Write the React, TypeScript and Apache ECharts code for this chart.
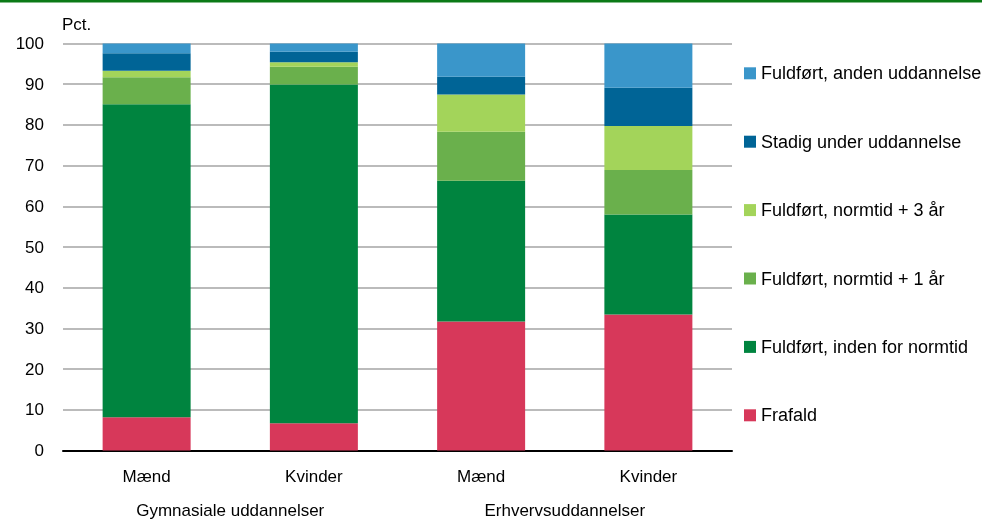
import React, { useEffect, useRef } from "react";
import * as echarts from "echarts";

const categories = ["Mænd", "Kvinder", "Mænd", "Kvinder"];
const groups = ["Gymnasiale uddannelser", "Erhvervsuddannelser"];

const frafald = [8.2, 6.7, 31.7, 33.4];
const indenNormtid = [76.9, 83.2, 34.6, 24.6];
const normtid1 = [6.6, 4.4, 12.0, 10.9];
const normtid3 = [1.6, 1.1, 9.2, 10.8];
const stadig = [4.3, 2.6, 4.3, 9.4];
const anden = [2.4, 2.0, 8.2, 10.9];

const seriesNames = [
  "Frafald",
  "Fuldført, inden for normtid",
  "Fuldført, normtid + 1 år",
  "Fuldført, normtid + 3 år",
  "Stadig under uddannelse",
  "Fuldført, anden uddannelse",
];
const seriesData = [frafald, indenNormtid, normtid1, normtid3, stadig, anden];
const colors = ["#d7385a", "#00843f", "#6ab04c", "#a3d45a", "#006496", "#3a96ca"];

const FONT = "'Liberation Sans', Arial, sans-serif";

export default function App() {
  const ref = useRef<HTMLDivElement>(null);
  useEffect(() => {
    if (!ref.current) return;
    const chart = echarts.init(ref.current, null, { renderer: "svg" });
    chart.setOption({
      animation: false,
      textStyle: { fontFamily: FONT, color: "#000" },
      grid: { left: 63, right: 250, top: 43.5, bottom: 70.5, containLabel: false },
      legend: {
        orient: "vertical",
        left: 744,
        top: 64.3,
        padding: 0,
        itemWidth: 12,
        itemHeight: 12,
        itemGap: 50.4,
        icon: "rect",
        data: seriesNames.slice().reverse(),
        textStyle: { fontFamily: FONT, fontSize: 18, color: "#000", lineHeight: 18 },
        selectedMode: false,
      },
      xAxis: [
        {
          type: "category",
          data: categories,
          axisLine: { lineStyle: { color: "#000", width: 2 } },
          axisTick: { show: false },
          axisLabel: { fontSize: 17, color: "#000", margin: 17, fontFamily: FONT },
        },
        {
          type: "category",
          data: groups,
          position: "bottom",
          offset: 34,
          axisLine: { show: false },
          axisTick: { show: false },
          axisLabel: { fontSize: 17, color: "#000", margin: 17, fontFamily: FONT },
        },
      ],
      yAxis: {
        type: "value",
        min: 0,
        max: 100,
        interval: 10,
        axisLine: { show: false },
        axisTick: { show: false },
        axisLabel: { fontSize: 17, color: "#000", margin: 19, fontFamily: FONT },
        splitLine: { lineStyle: { color: "#a5a5a5", width: 1.5 } },
      },
      graphic: [
        { type: "rect", shape: { x: 0, y: 0, width: 982, height: 2.5 }, style: { fill: "#0b7a16" } },
        {
          type: "text",
          x: 62,
          y: 24,
          style: { text: "Pct.", fontSize: 17, fontFamily: FONT, fill: "#000", textVerticalAlign: "middle" },
        },
      ],
      series: seriesNames.map((name, i) => ({
        name,
        type: "bar",
        stack: "total",
        xAxisIndex: 0,
        barWidth: 88,
        data: seriesData[i],
        itemStyle: { color: colors[i] },
      })),
    });
    return () => chart.dispose();
  }, []);
  return <div ref={ref} style={{ position: "fixed", left: 0, top: 0, width: 982, height: 521 }} />;
}
